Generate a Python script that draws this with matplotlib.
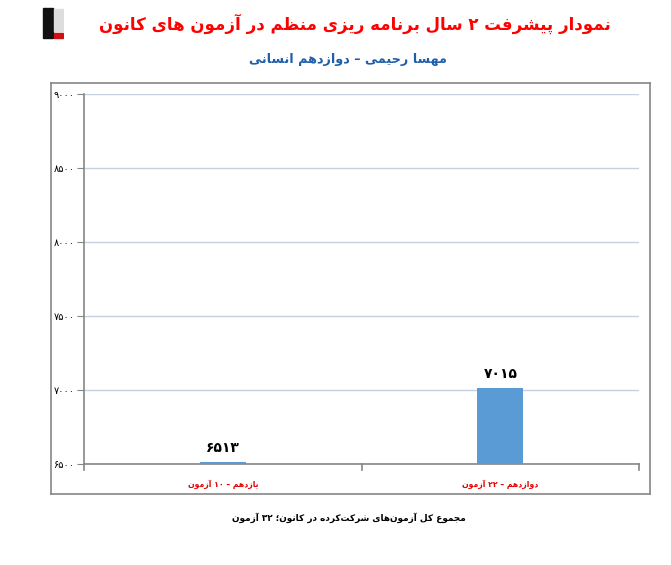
import numpy as np
import matplotlib
matplotlib.use("Agg")
import matplotlib.pyplot as plt
from matplotlib.ticker import FuncFormatter, FixedLocator
from matplotlib.patches import Rectangle

# --- data ---
categories = ["یازدهم – ۱۰ آزمون", "دوازدهم – ۲۲ آزمون"]
values = [6513, 7015]
y_min, y_max, y_step = 6500, 9000, 500
title = "نمودار پیشرفت ۲ سال برنامه ریزی منظم در آزمون های کانون"
subtitle = "مهسا رحیمی – دوازدهم انسانی"
caption = "مجموع کل آزمون‌های شرکت‌کرده در کانون؛ ۳۲ آزمون"

# --- tiny arabic/persian shaper (matplotlib has no text shaping) ---
dual = {
    "ب": (0xFE8F, 0xFE90, 0xFE91, 0xFE92), "ت": (0xFE95, 0xFE96, 0xFE97, 0xFE98),
    "ث": (0xFE99, 0xFE9A, 0xFE9B, 0xFE9C), "ج": (0xFE9D, 0xFE9E, 0xFE9F, 0xFEA0),
    "ح": (0xFEA1, 0xFEA2, 0xFEA3, 0xFEA4), "خ": (0xFEA5, 0xFEA6, 0xFEA7, 0xFEA8),
    "س": (0xFEB1, 0xFEB2, 0xFEB3, 0xFEB4), "ش": (0xFEB5, 0xFEB6, 0xFEB7, 0xFEB8),
    "ص": (0xFEB9, 0xFEBA, 0xFEBB, 0xFEBC), "ض": (0xFEBD, 0xFEBE, 0xFEBF, 0xFEC0),
    "ط": (0xFEC1, 0xFEC2, 0xFEC3, 0xFEC4), "ظ": (0xFEC5, 0xFEC6, 0xFEC7, 0xFEC8),
    "ع": (0xFEC9, 0xFECA, 0xFECB, 0xFECC), "غ": (0xFECD, 0xFECE, 0xFECF, 0xFED0),
    "ف": (0xFED1, 0xFED2, 0xFED3, 0xFED4), "ق": (0xFED5, 0xFED6, 0xFED7, 0xFED8),
    "ل": (0xFEDD, 0xFEDE, 0xFEDF, 0xFEE0), "م": (0xFEE1, 0xFEE2, 0xFEE3, 0xFEE4),
    "ن": (0xFEE5, 0xFEE6, 0xFEE7, 0xFEE8), "ه": (0xFEE9, 0xFEEA, 0xFEEB, 0xFEEC),
    "پ": (0xFB56, 0xFB57, 0xFB58, 0xFB59), "چ": (0xFB7A, 0xFB7B, 0xFB7C, 0xFB7D),
    "ک": (0xFB8E, 0xFB8F, 0xFB90, 0xFB91), "گ": (0xFB92, 0xFB93, 0xFB94, 0xFB95),
    "ی": (0xFBFC, 0xFBFD, 0xFBFE, 0xFBFF),
}
right = {
    "ا": (0xFE8D, 0xFE8E), "آ": (0xFE81, 0xFE82), "د": (0xFEA9, 0xFEAA),
    "ذ": (0xFEAB, 0xFEAC), "ر": (0xFEAD, 0xFEAE), "ز": (0xFEAF, 0xFEB0),
    "ژ": (0xFB8A, 0xFB8B), "و": (0xFEED, 0xFEEE),
}
digits = set("۰۱۲۳۴۵۶۷۸۹0123456789")


def shape(s):
    out = []
    for i, ch in enumerate(s):
        prev = s[i - 1] if i > 0 else ""
        nxt = s[i + 1] if i + 1 < len(s) else ""
        jp = prev in dual
        jn = nxt in dual or nxt in right
        if ch in dual:
            f = dual[ch]
            if jp and jn:
                out.append(chr(f[3]))
            elif jp:
                out.append(chr(f[1]))
            elif jn:
                out.append(chr(f[2]))
            else:
                out.append(chr(f[0]))
        elif ch in right:
            f = right[ch]
            out.append(chr(f[1] if jp else f[0]))
        elif ch == "\u200c":
            continue
        else:
            out.append(ch)
    # visual order: reverse, keep digit runs left-to-right
    rev = out[::-1]
    res, run = [], []
    for c in rev:
        if c in digits:
            run.append(c)
        else:
            if run:
                res.extend(run[::-1])
                run = []
            res.append(c)
    res.extend(run[::-1])
    return "".join(res)


def fa_num(v):
    return "".join("۰۱۲۳۴۵۶۷۸۹"[int(d)] if d.isdigit() else d for d in str(int(v)))


plt.rcParams["font.family"] = ["DejaVu Sans"]

fig = plt.figure(figsize=(6.71, 5.65), dpi=100)
W, H = 671, 565

# outer chart frame
frame = fig.add_axes([51 / W, 1 - 494 / H, (650 - 51) / W, (494 - 83) / H])
frame.set_xticks([])
frame.set_yticks([])
for sp in frame.spines.values():
    sp.set_color("#868686")
    sp.set_linewidth(1.2)
frame.patch.set_alpha(0)

ax = fig.add_axes([84 / W, 1 - 464 / H, (639 - 84) / W, (464 - 94) / H])
x = np.arange(len(categories))
ax.bar(x, np.array(values) - y_min, bottom=y_min, width=0.166, color="#5B9BD5", zorder=3)
ax.set_xlim(-0.5, len(categories) - 0.5)
ax.set_ylim(y_min, y_max)
ax.yaxis.set_major_locator(FixedLocator(np.arange(y_min, y_max + 1, y_step)))
ax.yaxis.set_major_formatter(FuncFormatter(lambda v, p: fa_num(v)))
ax.grid(axis="y", color="#C3D1E0", linewidth=1, zorder=0)
ax.set_axisbelow(True)
for s in ["top", "right"]:
    ax.spines[s].set_visible(False)
ax.spines["left"].set_color("#868686")
ax.spines["bottom"].set_color("#868686")
ax.spines["left"].set_linewidth(1.2)
ax.spines["bottom"].set_linewidth(1.2)
ax.tick_params(axis="y", length=5, color="#868686", labelsize=7, pad=2)
ax.set_xticks(x)
ax.set_xticklabels([shape(c) for c in categories], color="#E00000",
                   fontsize=5.6, fontweight="bold")
ax.tick_params(axis="x", length=0, pad=11)
# category boundary tick marks
for b in np.arange(-0.5, len(categories), 1.0):
    ax.plot([b, b], [0, -0.015], transform=ax.get_xaxis_transform(),
            color="#868686", lw=1.2, clip_on=False)

for xi, v in zip(x, values):
    ax.text(xi, v + 45, fa_num(v), ha="center", va="bottom",
            fontsize=10, fontweight="bold", color="black")

fig.text(355 / W, 1 - 24 / H, shape(title), ha="center", va="center",
         fontsize=12, fontweight="bold", color="#FF0000")
fig.text(348 / W, 1 - 60 / H, shape(subtitle), ha="center", va="center",
         fontsize=9.2, fontweight="bold", color="#1F5FAA")
fig.text(349 / W, 1 - 518 / H, shape(caption), ha="center", va="center",
         fontsize=6.4, fontweight="bold", color="black")

# small logo badge next to the title
logo = fig.add_axes([42 / W, 1 - 40 / H, 22 / W, 36 / H])
logo.set_xlim(0, 1)
logo.set_ylim(0, 1)
logo.axis("off")
logo.add_patch(Rectangle((0.05, 0.05), 0.45, 0.85, color="#111111"))
logo.add_patch(Rectangle((0.55, 0.25), 0.4, 0.6, color="#DDDDDD"))
logo.add_patch(Rectangle((0.55, 0.05), 0.4, 0.15, color="#D01010"))

fig.savefig("out.png", dpi=100)
